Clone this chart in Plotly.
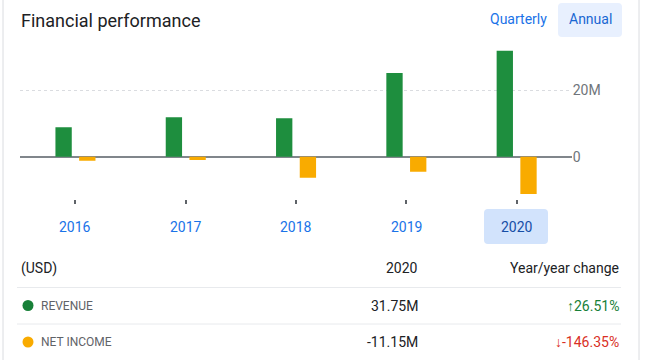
import plotly.graph_objects as go

# ---- data ----
years = ["2016", "2017", "2018", "2019", "2020"]
revenue = [8.8e6, 11.8e6, 11.5e6, 25.1e6, 31.75e6]
net_income = [-1.2e6, -1.0e6, -6.3e6, -4.53e6, -11.15e6]
series_names = ["REVENUE", "NET INCOME"]
latest_values = ["31.75M", "-11.15M"]
yoy_change = ["↑26.51%", "↓-146.35%"]
y_tickvals = [0, 20e6]
y_ticktext = ["0", "20M"]

W, H = 645, 360
GREEN = "#1e8e3e"
ORANGE = "#f9ab00"
FONT = "Roboto"


def px(x):
    return x / W


def py(y):
    return 1 - y / H


def rounded_rect(x0, y0, x1, y1, r):
    # pixel coordinates -> paper path with rounded corners
    X = lambda v: f"{px(v):.5f}"
    Y = lambda v: f"{py(v):.5f}"
    return (f"M {X(x0 + r)},{Y(y0)} L {X(x1 - r)},{Y(y0)} Q {X(x1)},{Y(y0)} {X(x1)},{Y(y0 + r)} "
            f"L {X(x1)},{Y(y1 - r)} Q {X(x1)},{Y(y1)} {X(x1 - r)},{Y(y1)} "
            f"L {X(x0 + r)},{Y(y1)} Q {X(x0)},{Y(y1)} {X(x0)},{Y(y1 - r)} "
            f"L {X(x0)},{Y(y0 + r)} Q {X(x0)},{Y(y0)} {X(x0 + r)},{Y(y0)} Z")


fig = go.Figure()
fig.add_trace(go.Bar(x=years, y=revenue, name="Revenue", marker_color=GREEN,
                     width=0.148, offset=-0.181, marker_line_width=0))
fig.add_trace(go.Bar(x=years, y=net_income, name="Net income", marker_color=ORANGE,
                     width=0.148, offset=0.034, marker_line_width=0))

shapes = []
annotations = []

# card borders
for xx in (3, 639):
    shapes.append(dict(type="line", xref="paper", yref="paper", x0=px(xx), x1=px(xx),
                       y0=0, y1=1, line=dict(color="#dadce0", width=1)))

# Annual button background
shapes.append(dict(type="path", xref="paper", yref="paper", path=rounded_rect(558, 3, 622, 37, 4),
                   fillcolor="#e8f0fe", line=dict(width=0), layer="below"))

# selected year highlight
shapes.append(dict(type="path", xref="paper", yref="paper", path=rounded_rect(484, 209, 548, 244, 4),
                   fillcolor="#d2e3fc", line=dict(width=0), layer="below"))

# table separators
for yy in (287.5, 324):
    shapes.append(dict(type="line", xref="paper", yref="paper", x0=px(17), x1=px(621),
                       y0=py(yy), y1=py(yy), line=dict(color="#e8eaed", width=1)))

# legend dots
for yy, col in ((305.5, "#188038"), (342, ORANGE)):
    shapes.append(dict(type="circle", xref="paper", yref="paper",
                       x0=px(22.5), x1=px(33.5), y0=py(yy + 5.5), y1=py(yy - 5.5),
                       fillcolor=col, line=dict(width=0)))

# header
annotations.append(dict(text="Financial performance", x=px(19), y=py(20), xref="paper", yref="paper",
                        xanchor="left", yanchor="middle", showarrow=False,
                        font=dict(family=FONT, size=18, color="#202124")))
annotations.append(dict(text="Quarterly", x=px(549), y=py(19), xref="paper", yref="paper",
                        xanchor="right", yanchor="middle", showarrow=False,
                        font=dict(family=FONT, size=14, color="#1a73e8")))
annotations.append(dict(text="Annual", x=px(590), y=py(19), xref="paper", yref="paper",
                        xanchor="center", yanchor="middle", showarrow=False,
                        font=dict(family=FONT, size=14, color="#1967d2")))

# category labels (positioned by category index on the x axis)
for i, yr in enumerate(years):
    sel = i == len(years) - 1
    annotations.append(dict(text=yr, x=i, y=py(226.5), xref="x", yref="paper",
                            xanchor="center", yanchor="middle", showarrow=False,
                            font=dict(family=FONT, size=14, color="#174ea6" if sel else "#1a73e8")))

# table header
annotations.append(dict(text="(USD)", x=px(19), y=py(268), xref="paper", yref="paper",
                        xanchor="left", yanchor="middle", showarrow=False,
                        font=dict(family=FONT, size=14, color="#202124")))
annotations.append(dict(text=years[-1], x=px(420), y=py(268), xref="paper", yref="paper",
                        xanchor="right", yanchor="middle", showarrow=False,
                        font=dict(family=FONT, size=14, color="#202124")))
annotations.append(dict(text="Year/year change", x=px(621), y=py(268), xref="paper", yref="paper",
                        xanchor="right", yanchor="middle", showarrow=False,
                        font=dict(family=FONT, size=14, color="#202124")))

# table rows
chg_colors = ["#188038", "#d93025"]
for yy, name, val, chg, cc in zip((305.5, 342), series_names, latest_values, yoy_change, chg_colors):
    annotations.append(dict(text=name, x=px(38.5), y=py(yy), xref="paper", yref="paper",
                            xanchor="left", yanchor="middle", showarrow=False,
                            font=dict(family=FONT, size=12, color="#5f6368")))
    annotations.append(dict(text=val, x=px(420), y=py(yy), xref="paper", yref="paper",
                            xanchor="right", yanchor="middle", showarrow=False,
                            font=dict(family=FONT, size=14, color="#202124")))
    annotations.append(dict(text=chg, x=px(621), y=py(yy), xref="paper", yref="paper",
                            xanchor="right", yanchor="middle", showarrow=False,
                            font=dict(family=FONT, size=14, color=cc)))

fig.update_layout(
    width=W, height=H,
    margin=dict(l=0, r=0, t=0, b=0),
    paper_bgcolor="white", plot_bgcolor="white",
    showlegend=False, barmode="group",
    font=dict(family=FONT),
    shapes=shapes, annotations=annotations,
    xaxis=dict(type="category", categoryorder="array", categoryarray=years,
               range=[-0.5, 4.5], domain=[px(20.25), px(571.75)],
               showticklabels=False, ticks="outside", ticklen=4, tickwidth=2,
               tickcolor="#5f6368", showgrid=False, zeroline=False, showline=False,
               fixedrange=True),
    yaxis=dict(side="right", range=[-12.68e6, 34.99e6], domain=[py(199), py(40)],
               tickvals=y_tickvals, ticktext=y_ticktext,
               tickfont=dict(family=FONT, size=14, color="#70757a"),
               showgrid=True, gridcolor="#dadce0", griddash="dot", gridwidth=1,
               zeroline=True, zerolinecolor="#80868b", zerolinewidth=2,
               ticks="", showline=False, fixedrange=True),
)

fig.write_html("out.html", config={"displayModeBar": False},
               post_script="document.body.style.margin='0';document.body.style.overflow='hidden';")
